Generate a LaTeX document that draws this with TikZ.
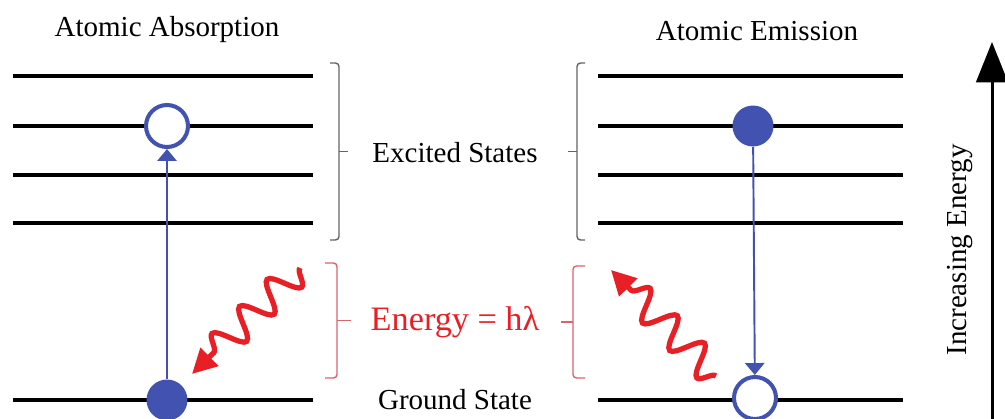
\documentclass[tikz,border=0pt]{standalone}
\usepackage{fontspec}
\setmainfont{Liberation Serif}
\usetikzlibrary{arrows.meta, positioning, decorations.pathmorphing}
\definecolor{cBlue}{RGB}{66,82,176}
\definecolor{cRed}{RGB}{232,32,38}
\definecolor{cBrace}{RGB}{215,100,110}
\definecolor{cGray}{RGB}{100,100,100}
\tikzset{
	level/.style    ={line width=2.3pt, black},
	fullatom/.style ={circle, fill=cBlue, draw=none, minimum size=0.82cm, inner sep=0pt},
	openatom/.style ={circle, fill=white, draw=cBlue, line width=2.3pt, minimum size=0.84cm, inner sep=0pt},
	trans/.style    ={-{Triangle[length=6.8pt, width=11pt]}, cBlue, line width=1.1pt},
	photon/.style   ={cRed, line width=3pt, decorate, decoration={snake, amplitude=8.5pt, segment length=22pt, post length=14pt}, -{Triangle[length=14pt, width=14pt]}},
	brace/.style    ={line width=0.8pt},
	axisarrow/.style={-{Triangle[length=23pt, width=18pt]}, line width=1.7pt, black},
	% text styles
	lbl/.style      ={font=\fontsize{16.5}{19}\selectfont, inner sep=0pt},
	title/.style    ={lbl},
}
% squared brace: style, hook x, stem x, top y, bottom y, tip length
\newcommand{\sqbrace}[6]{%
	\draw[brace, #1, rounded corners=2pt] (#2,#4) -- (#3,#4) -- (#3,#5) -- (#2,#5);
	\draw[brace, #1] (#3,{(#4+#5)/2}) -- ++(#6,0);}
\begin{document}
\begin{tikzpicture}[x=0.02cm, y=-0.02cm]
	\path[use as bounding box, clip] (0,0) rectangle (1005,419);
	% energy levels
	\foreach \y in {76,126,175,223,400} {
		\draw[level] (13,\y) -- (313,\y);
		\draw[level] (598,\y) -- (903,\y);
	}
	\node[title] (tabs) at (167,30) {Atomic Absorption};
	\node[title] (tem) at (757,31) {Atomic Emission};
	\node[openatom] (absup) at (167,126) {};
	\node[fullatom] (absdn) at (167,400) {};
	\node[fullatom] (emup) at (753,126) {};
	\node[openatom] (emdn) at (755,398) {};
	\draw[trans] (absdn) -- (absup);
	\draw[trans] (emup) -- (emdn);
	% photons
	\coordinate (pa1) at (300,268);
	\coordinate (pa2) at (192,374);
	\coordinate (pe1) at (716,376);
	\coordinate (pe2) at (611,270);
	\draw[photon] (pa1) -- (pa2);
	\draw[photon] (pe1) -- (pe2);
	% braces and labels
	\node[lbl] (exc) at (455,153) {Excited States};
	\node[lbl, text=cRed, font=\fontsize{19.5}{22}\selectfont] (ene) at (455,322) {Energy = hλ};
	\node[lbl] (gnd) at (455,400) {Ground State};
	\sqbrace{cGray}{330}{339}{63}{240}{9}
	\sqbrace{cGray}{585}{577}{63}{240}{-9}
	\sqbrace{cBrace}{325}{337}{263}{378}{14}
	\sqbrace{cBrace}{585}{573}{266}{378}{-12}
	% energy axis
	\coordinate (ebot) at (992,419);
	\coordinate (etop) at (992,42);
	\draw[axisarrow] (ebot) -- (etop);
	\node[lbl, rotate=90] (einc) at (960,250) {Increasing Energy};
\end{tikzpicture}
\end{document}
